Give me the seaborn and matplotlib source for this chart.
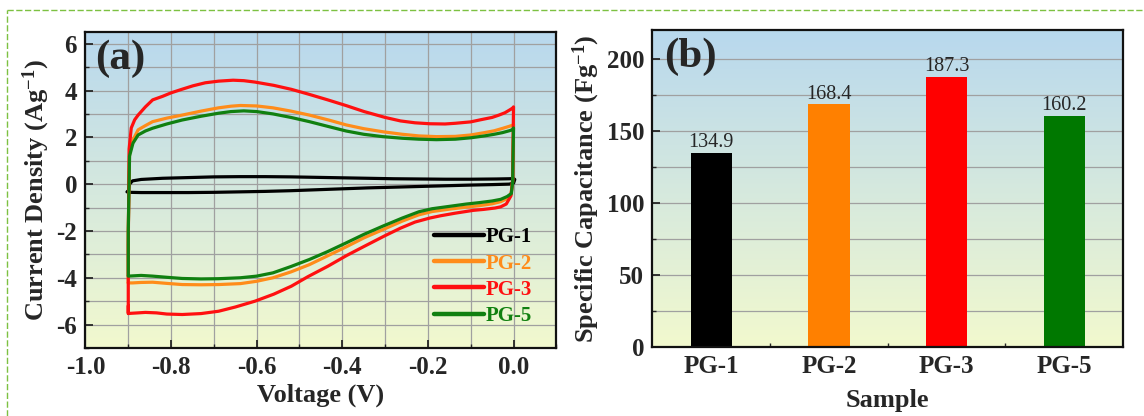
import numpy as np
import pandas as pd
import matplotlib
matplotlib.use("Agg")
import matplotlib.pyplot as plt
from matplotlib.lines import Line2D
from matplotlib.ticker import MultipleLocator, FixedLocator
import seaborn as sns

# ---- data -----------------------------------------------------------------
samples = ["PG-1", "PG-2", "PG-3", "PG-5"]
line_colors = ["#000000", "#ff8c1a", "#ff1010", "#108010"]
bar_colors = ["#000000", "#ff8000", "#ff0000", "#007800"]

# CV loops: anodic sweep (-0.9 -> 0 V) followed by cathodic sweep (0 -> -0.9 V)
pg1_v = [-0.900, -0.897, -0.890, -0.870, -0.820, -0.760, -0.700, -0.640, -0.580, -0.520,
         -0.460, -0.400, -0.340, -0.280, -0.220, -0.160, -0.100, -0.040, -0.010, 0.000,
         0.003, 0.003, 0.000, -0.010, -0.050, -0.100, -0.160, -0.220, -0.280, -0.340,
         -0.400, -0.460, -0.520, -0.580, -0.640, -0.700, -0.760, -0.820, -0.870, -0.897,
         -0.903, -0.900]
pg1_i = [-0.31, 0.00, 0.14, 0.20, 0.25, 0.28, 0.31, 0.32, 0.32, 0.31,
         0.29, 0.27, 0.25, 0.23, 0.22, 0.21, 0.21, 0.22, 0.23, 0.24,
         0.20, 0.20, 0.04, 0.00, -0.02, -0.04, -0.07, -0.10, -0.13, -0.16,
         -0.20, -0.24, -0.28, -0.31, -0.33, -0.35, -0.36, -0.36, -0.36, -0.35,
         -0.33, -0.31]

pg2_v = [-0.900, -0.900, -0.897, -0.889, -0.877, -0.860, -0.843, -0.810, -0.774, -0.730,
         -0.689, -0.660, -0.638, -0.600, -0.562, -0.520, -0.477, -0.430, -0.391, -0.350,
         -0.306, -0.260, -0.221, -0.180, -0.136, -0.100, -0.068, -0.045, -0.026, -0.010,
         -0.002, 0.000,
         0.000, -0.002, -0.006, -0.015, -0.030, -0.050, -0.080, -0.110, -0.150, -0.190,
         -0.221, -0.260, -0.306, -0.350, -0.391, -0.434, -0.477, -0.520, -0.562, -0.600,
         -0.638, -0.689, -0.730, -0.774, -0.810, -0.843, -0.870, -0.890, -0.900]
pg2_i = [-4.22, -2.00, 1.30, 1.89, 2.32, 2.50, 2.67, 2.82, 2.95, 3.12,
         3.26, 3.33, 3.36, 3.34, 3.26, 3.12, 2.95, 2.73, 2.53, 2.37,
         2.24, 2.13, 2.06, 2.03, 2.04, 2.10, 2.20, 2.28, 2.38, 2.47,
         2.52, 2.55,
         2.55, 0.10, -0.45, -0.62, -0.75, -0.84, -0.92, -0.98, -1.07, -1.17,
         -1.31, -1.58, -1.95, -2.30, -2.68, -3.06, -3.44, -3.75, -4.00, -4.15,
         -4.25, -4.29, -4.30, -4.29, -4.24, -4.19, -4.20, -4.22, -4.22]

pg3_v = [-0.900, -0.900, -0.898, -0.893, -0.885, -0.877, -0.860, -0.843, -0.820, -0.800,
         -0.775, -0.749, -0.720, -0.689, -0.655, -0.630, -0.604, -0.560, -0.519, -0.480,
         -0.434, -0.390, -0.349, -0.300, -0.264, -0.230, -0.196, -0.160, -0.136, -0.100,
         -0.077, -0.050, -0.034, -0.020, -0.009, -0.002, 0.000,
         0.000, -0.002, -0.006, -0.017, -0.030, -0.043, -0.070, -0.094, -0.136, -0.170,
         -0.196, -0.230, -0.264, -0.300, -0.349, -0.390, -0.434, -0.480, -0.519, -0.560,
         -0.604, -0.650, -0.689, -0.730, -0.774, -0.810, -0.834, -0.860, -0.877, -0.895,
         -0.900, -0.900]
pg3_i = [-5.50, -2.60, 1.50, 2.40, 2.75, 2.95, 3.30, 3.60, 3.75, 3.90,
         4.05, 4.20, 4.33, 4.40, 4.44, 4.42, 4.36, 4.22, 4.05, 3.85,
         3.60, 3.35, 3.10, 2.85, 2.70, 2.62, 2.58, 2.57, 2.60, 2.66,
         2.75, 2.85, 2.95, 3.05, 3.17, 3.25, 3.30,
         3.30, 0.20, -0.50, -0.85, -0.97, -1.02, -1.08, -1.12, -1.24, -1.35,
         -1.45, -1.62, -1.88, -2.20, -2.66, -3.05, -3.51, -3.95, -4.36, -4.70,
         -5.00, -5.25, -5.43, -5.53, -5.57, -5.55, -5.50, -5.48, -5.50, -5.52,
         -5.53, -5.20]

pg5_v = [-0.900, -0.900, -0.897, -0.889, -0.877, -0.860, -0.843, -0.810, -0.774, -0.730,
         -0.689, -0.660, -0.630, -0.600, -0.562, -0.520, -0.477, -0.430, -0.391, -0.350,
         -0.306, -0.260, -0.221, -0.180, -0.136, -0.100, -0.068, -0.045, -0.026, -0.010,
         -0.002, 0.000,
         0.000, -0.002, -0.005, -0.015, -0.030, -0.050, -0.080, -0.110, -0.150, -0.190,
         -0.221, -0.260, -0.306, -0.350, -0.391, -0.434, -0.477, -0.520, -0.562, -0.600,
         -0.638, -0.689, -0.730, -0.774, -0.810, -0.843, -0.870, -0.890, -0.900]
pg5_i = [-3.90, -2.00, 1.20, 1.75, 2.10, 2.27, 2.39, 2.57, 2.74, 2.90,
         3.03, 3.10, 3.13, 3.10, 3.00, 2.85, 2.67, 2.45, 2.27, 2.13,
         2.03, 1.96, 1.92, 1.90, 1.92, 1.98, 2.06, 2.13, 2.20, 2.28,
         2.33, 2.40,
         2.40, 0.10, -0.40, -0.53, -0.65, -0.72, -0.79, -0.85, -0.95, -1.05,
         -1.18, -1.45, -1.80, -2.15, -2.51, -2.88, -3.22, -3.52, -3.79, -3.93,
         -4.00, -4.04, -4.05, -4.03, -3.98, -3.93, -3.90, -3.92, -3.93]

capacitance = [134.9, 168.4, 187.3, 160.2]

voltage_ticks = [-1.0, -0.8, -0.6, -0.4, -0.2, 0.0]
current_ticks = [-6, -4, -2, 0, 2, 4, 6]
cap_ticks = [0, 50, 100, 150, 200]

# ---- style ----------------------------------------------------------------
sns.set_style("ticks")
plt.rcParams["font.family"] = ["Liberation Serif", "DejaVu Serif"]
plt.rcParams["font.weight"] = "bold"
plt.rcParams["axes.labelweight"] = "bold"
plt.rcParams["mathtext.fontset"] = "custom"
plt.rcParams["mathtext.rm"] = "Liberation Serif:bold"
plt.rcParams["mathtext.it"] = "Liberation Serif:bold"
plt.rcParams["mathtext.bf"] = "Liberation Serif:bold"
plt.rcParams["mathtext.default"] = "rm"

TICK_FS = 18
LABEL_FS = 19
GRID_C = "#a0a0a0"

fig = plt.figure(figsize=(11.44, 4.16), dpi=100)
ax1 = fig.add_axes([0.0747, 0.1635, 0.4116, 0.7596])
ax2 = fig.add_axes([0.5703, 0.1659, 0.4114, 0.7620])

# vertical blue -> pale yellow backdrop
grad_top = np.array([184, 216, 238]) / 255.0
grad_bot = np.array([242, 249, 206]) / 255.0
t = np.linspace(0, 1, 256)[:, None]
grad = (grad_top[None, :] * (1 - t) + grad_bot[None, :] * t)[:, None, :]
for ax in (ax1, ax2):
    ax.imshow(grad, extent=[0, 1, 0, 1], transform=ax.transAxes,
              aspect="auto", zorder=0, interpolation="bilinear")
    ax.set_axisbelow(True)

# ---- (a) cyclic voltammetry ----------------------------------------------
frames = []
for name, v, i in zip(samples, [pg1_v, pg2_v, pg3_v, pg5_v],
                      [pg1_i, pg2_i, pg3_i, pg5_i]):
    frames.append(pd.DataFrame({"Voltage": v, "Current": i, "Sample": name}))
cv = pd.concat(frames, ignore_index=True)

sns.lineplot(data=cv, x="Voltage", y="Current", hue="Sample",
             hue_order=samples, palette=line_colors, sort=False,
             estimator=None, units="Sample", lw=2.3, ax=ax1, zorder=3)

ax1.set_xlim(-1.0, 0.1)
ax1.set_ylim(-7, 6.5)
ax1.xaxis.set_major_locator(FixedLocator(voltage_ticks))
ax1.xaxis.set_minor_locator(MultipleLocator(0.1))
ax1.yaxis.set_major_locator(FixedLocator(current_ticks))
ax1.yaxis.set_minor_locator(MultipleLocator(1))
ax1.set_xticklabels([f"{v:.1f}" for v in voltage_ticks])
ax1.set_yticklabels([str(v) for v in current_ticks])
ax1.grid(True, which="both", color=GRID_C, lw=0.9)
ax1.set_xlabel("Voltage (V)", fontsize=LABEL_FS, labelpad=3)
ax1.set_ylabel("Current Density (Ag$^{-1}$)", fontsize=LABEL_FS, labelpad=3)
ax1.text(0.02, 0.975, "(a)", transform=ax1.transAxes, fontsize=31,
         fontweight="bold", ha="left", va="top", zorder=5)

handles, labels = ax1.get_legend_handles_labels()
leg = ax1.legend(handles, labels, loc="lower right", bbox_to_anchor=(0.975, 0.03),
                 frameon=False, fontsize=15, handlelength=2.4, handletextpad=0.1,
                 labelspacing=0.3, borderaxespad=0.2)
for txt, col in zip(leg.get_texts(), line_colors):
    txt.set_color(col)
    txt.set_fontweight("bold")
for lh in leg.get_lines():
    lh.set_linewidth(3.2)

# ---- (b) specific capacitance --------------------------------------------
sns.barplot(x=samples, y=capacitance, hue=samples, palette=bar_colors,
            saturation=1, width=0.35, legend=False, linewidth=0, ax=ax2, zorder=3)
for cont in ax2.containers:
    ax2.bar_label(cont, fmt="%.1f", fontsize=14.5, fontweight="normal",
                  padding=0.5)

ax2.set_xlim(-0.5, 3.5)
ax2.set_ylim(0, 220)
ax2.yaxis.set_major_locator(FixedLocator(cap_ticks))
ax2.yaxis.set_minor_locator(MultipleLocator(25))
ax2.xaxis.set_minor_locator(FixedLocator([0.5, 1.5, 2.5]))
ax2.set_yticklabels([str(v) for v in cap_ticks])
ax2.grid(True, axis="y", which="both", color=GRID_C, lw=0.9)
ax2.grid(False, axis="x", which="both")
ax2.set_xlabel("Sample", fontsize=LABEL_FS, labelpad=8)
ax2.set_ylabel("Specific Capacitance (Fg$^{-1}$)", fontsize=LABEL_FS, labelpad=3)
ax2.text(0.025, 0.975, "(b)", transform=ax2.transAxes, fontsize=31,
         fontweight="bold", ha="left", va="top", zorder=5)

for ax in (ax1, ax2):
    for sp in ax.spines.values():
        sp.set_visible(True)
        sp.set_linewidth(1.6)
        sp.set_color("#111111")
        sp.set_zorder(6)
    ax.tick_params(which="major", direction="in", length=6, width=1.3,
                   labelsize=TICK_FS, pad=6, top=False, right=False)
    ax.tick_params(which="minor", direction="in", length=3, width=1.0,
                   top=False, right=False)
    for lab in ax.get_xticklabels() + ax.get_yticklabels():
        lab.set_fontweight("bold")

# dashed frame around the figure
fx = 7 / 1144
fy = 1 - 10 / 416
frame_kw = dict(transform=fig.transFigure, color="#7dc142", lw=1.0,
                ls=(0, (4.5, 1.8)))
fig.add_artist(Line2D([fx, 1.0], [fy, fy], **frame_kw))
fig.add_artist(Line2D([fx, fx], [0.0, fy], **frame_kw))

fig.savefig("out.png", dpi=100)
